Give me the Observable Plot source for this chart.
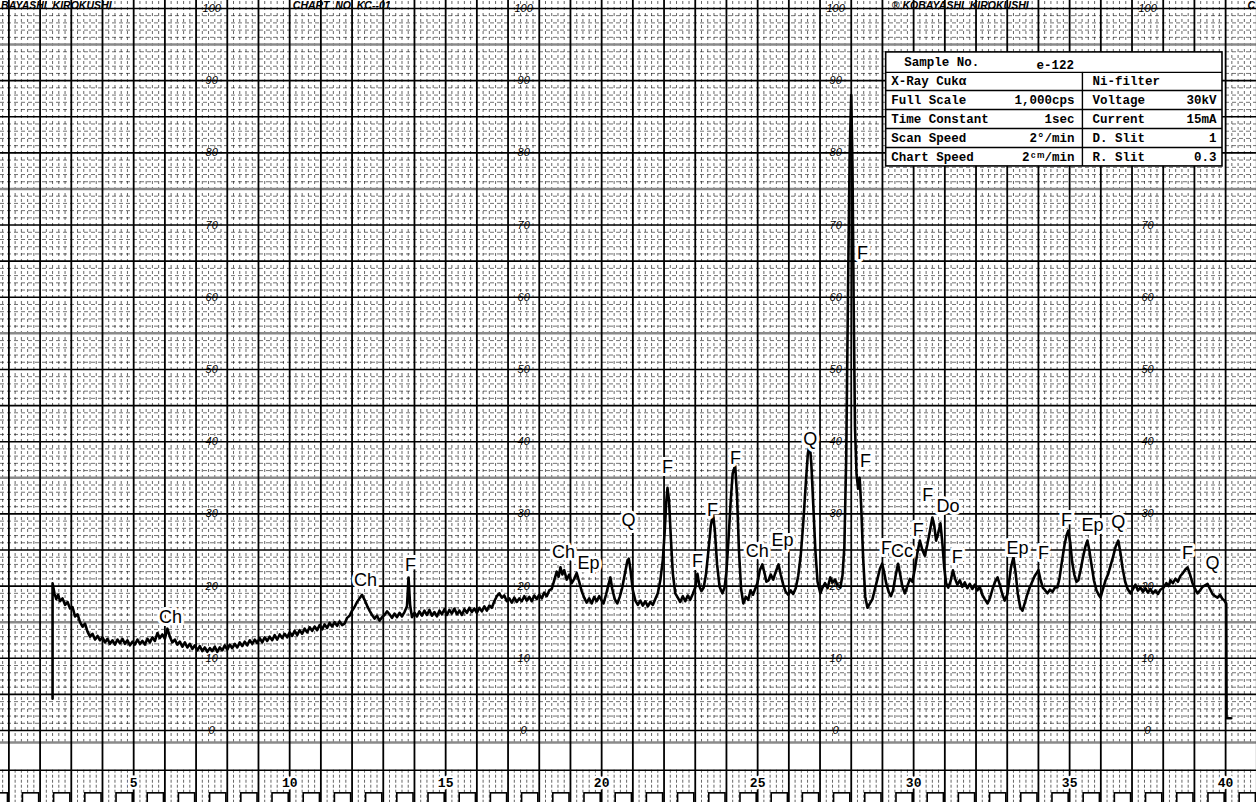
<!DOCTYPE html>
<html>
<head>
<meta charset="utf-8">
<script src="https://cdn.jsdelivr.net/npm/d3@7"></script>
<script src="https://cdn.jsdelivr.net/npm/@observablehq/plot@0.6"></script>
<style>
  html, body { margin: 0; padding: 0; background: #fff; overflow: hidden; }
  #chart svg { display: block; }
</style>
</head>
<body>
<div id="chart"></div>
<script>
// ---------------- data ----------------
// diffraction trace: [2θ (deg), recorder reading (% of full scale)]
const trace = [
[2.40,4.4],[2.40,20.4],[2.46,19.0],[2.52,18.2],[2.58,18.8],[2.64,17.9],[2.72,18.3],[2.80,17.4],[2.88,17.8],[2.96,16.9],
[3.04,17.1],[3.12,15.8],[3.20,16.1],[3.28,15.0],[3.36,14.4],[3.44,14.8],[3.52,13.7],[3.60,13.0],[3.68,13.4],[3.76,12.6],
[3.84,13.1],[3.92,12.5],[4.00,12.9],[4.08,12.2],[4.16,12.7],[4.24,12.0],[4.32,12.5],[4.40,11.9],[4.48,12.6],[4.56,12.1],
[4.64,12.7],[4.72,12.0],[4.80,12.5],[4.88,11.8],[4.96,12.3],[5.04,11.9],[5.12,12.6],[5.20,12.0],[5.28,12.4],[5.36,11.9],
[5.44,12.7],[5.52,12.2],[5.60,12.9],[5.68,12.4],[5.76,13.5],[5.84,12.8],[5.92,13.3],[6.00,12.7],[6.08,14.1],[6.16,13.0],
[6.24,12.2],[6.32,12.6],[6.40,11.9],[6.48,12.3],[6.56,11.6],[6.64,12.2],[6.72,11.5],[6.80,12.0],[6.88,11.3],[6.96,11.8],
[7.04,11.1],[7.12,11.7],[7.20,11.0],[7.28,11.5],[7.36,10.9],[7.44,11.4],[7.52,11.0],[7.60,11.6],[7.68,10.9],[7.76,11.5],
[7.84,11.1],[7.92,11.8],[8.00,11.2],[8.08,11.9],[8.16,11.4],[8.24,12.0],[8.32,11.5],[8.40,12.2],[8.48,11.7],[8.56,12.3],
[8.64,11.8],[8.72,12.5],[8.80,12.0],[8.88,12.6],[8.96,12.1],[9.04,12.8],[9.12,12.2],[9.20,12.9],[9.28,12.4],[9.36,13.0],
[9.44,12.5],[9.52,13.2],[9.60,12.6],[9.68,13.3],[9.76,12.8],[9.84,13.4],[9.92,12.9],[10.00,13.6],[10.08,13.1],[10.16,13.8],
[10.24,13.2],[10.32,13.9],[10.40,13.4],[10.48,14.1],[10.56,13.6],[10.64,14.3],[10.72,13.8],[10.80,14.4],[10.88,13.9],[10.96,14.6],
[11.04,14.0],[11.12,14.7],[11.20,14.2],[11.28,14.9],[11.36,14.4],[11.44,15.0],[11.52,14.5],[11.60,15.1],[11.68,14.6],[11.76,14.8],
[11.84,15.6],[11.92,15.9],[12.00,16.6],[12.08,17.1],[12.16,17.8],[12.24,18.3],[12.32,18.8],[12.40,18.1],[12.48,17.3],[12.56,16.6],
[12.64,16.0],[12.72,15.5],[12.80,15.9],[12.88,15.2],[12.96,15.7],[13.04,16.0],[13.12,16.5],[13.20,16.1],[13.28,15.6],[13.36,16.2],
[13.44,15.7],[13.52,16.3],[13.60,15.8],[13.68,16.4],[13.76,17.2],[13.81,21.2],[13.86,17.4],[13.92,15.7],[14.00,16.3],[14.08,15.8],
[14.16,16.5],[14.24,15.9],[14.32,16.6],[14.40,16.0],[14.48,16.7],[14.56,15.9],[14.64,16.4],[14.72,15.8],[14.80,16.6],[14.88,16.1],
[14.96,16.8],[15.04,16.0],[15.12,16.7],[15.20,16.2],[15.28,16.9],[15.36,16.1],[15.44,16.6],[15.52,16.0],[15.60,16.8],[15.68,16.3],
[15.76,17.0],[15.84,16.4],[15.92,16.9],[16.00,16.3],[16.08,17.0],[16.16,16.5],[16.24,17.2],[16.32,16.6],[16.40,17.3],[16.48,17.0],
[16.56,17.9],[16.64,18.6],[16.72,19.0],[16.80,18.4],[16.88,18.7],[16.96,17.9],[17.04,18.3],[17.12,17.7],[17.20,18.4],[17.28,17.8],
[17.36,18.3],[17.44,17.9],[17.52,18.6],[17.60,18.0],[17.68,18.5],[17.76,17.9],[17.84,18.7],[17.92,18.2],[18.00,18.8],[18.08,18.3],
[18.16,19.1],[18.24,18.6],[18.32,19.4],[18.40,19.6],[18.48,20.8],[18.56,22.0],[18.62,21.3],[18.68,22.6],[18.74,21.6],[18.80,22.2],
[18.88,20.9],[18.96,21.6],[19.04,20.4],[19.12,21.0],[19.20,21.8],[19.28,20.6],[19.36,19.3],[19.44,18.4],[19.52,17.7],[19.60,18.3],
[19.68,17.6],[19.76,18.5],[19.84,17.9],[19.92,18.6],[20.00,18.0],[20.06,17.6],[20.14,18.8],[20.22,20.2],[20.28,21.2],[20.34,19.6],
[20.42,18.2],[20.50,17.6],[20.58,18.5],[20.66,19.8],[20.74,21.6],[20.82,23.4],[20.87,23.8],[20.92,22.4],[21.00,19.4],[21.08,18.0],
[21.16,17.4],[21.24,18.0],[21.32,17.3],[21.40,17.9],[21.48,17.2],[21.56,17.8],[21.64,17.4],[21.72,18.2],[21.80,19.0],[21.88,20.8],
[21.96,23.6],[22.02,27.5],[22.07,31.6],[22.11,33.6],[22.16,31.8],[22.22,26.5],[22.28,21.8],[22.36,19.0],[22.44,18.4],[22.52,17.8],
[22.60,18.6],[22.68,17.9],[22.76,18.7],[22.84,18.1],[22.92,18.9],[23.00,19.8],[23.07,21.7],[23.14,19.9],[23.20,19.3],[23.27,19.8],
[23.34,21.5],[23.42,24.8],[23.50,28.4],[23.57,30.0],[23.63,27.6],[23.70,23.0],[23.78,19.9],[23.87,19.0],[23.94,19.8],[24.00,22.0],
[24.07,26.8],[24.14,32.0],[24.20,35.6],[24.28,36.7],[24.34,32.5],[24.40,25.0],[24.47,19.6],[24.54,17.6],[24.62,18.5],[24.70,18.1],
[24.77,19.4],[24.85,18.8],[24.92,19.6],[24.99,20.4],[25.07,22.2],[25.15,23.0],[25.22,21.8],[25.28,20.6],[25.35,20.8],[25.42,21.6],
[25.50,20.9],[25.58,22.0],[25.67,23.0],[25.74,21.6],[25.82,20.2],[25.90,19.2],[25.98,18.8],[26.06,19.4],[26.14,18.9],[26.22,19.7],
[26.30,21.4],[26.38,24.2],[26.46,28.6],[26.54,34.0],[26.61,38.4],[26.67,39.7],[26.72,37.0],[26.78,31.5],[26.85,25.0],[26.92,20.6],
[27.01,19.0],[27.08,19.8],[27.16,20.4],[27.24,19.7],[27.33,21.2],[27.40,20.5],[27.48,20.9],[27.56,20.1],[27.65,19.8],[27.72,21.5],
[27.78,25.5],[27.84,38.0],[27.90,62.0],[27.95,80.0],[28.00,88.0],[28.04,78.0],[28.08,58.0],[28.12,42.0],[28.17,35.5],[28.22,33.5],
[28.27,35.0],[28.32,31.0],[28.38,24.0],[28.45,18.5],[28.52,17.0],[28.60,17.6],[28.68,18.2],[28.76,19.6],[28.84,21.0],[28.92,22.4],
[28.99,23.1],[29.05,22.0],[29.12,20.4],[29.20,19.2],[29.27,18.6],[29.34,19.4],[29.42,21.4],[29.50,23.1],[29.57,21.6],[29.64,19.9],
[29.72,19.0],[29.80,20.0],[29.88,21.0],[29.96,20.6],[30.04,22.4],[30.12,24.6],[30.20,26.3],[30.28,25.0],[30.36,24.2],[30.44,25.8],
[30.52,27.6],[30.60,29.5],[30.66,28.4],[30.72,26.3],[30.78,27.2],[30.86,28.7],[30.92,26.0],[30.98,22.6],[31.04,20.4],[31.11,19.8],
[31.18,20.6],[31.26,22.2],[31.33,21.0],[31.40,20.2],[31.48,20.8],[31.56,19.9],[31.64,20.5],[31.72,19.7],[31.80,20.3],[31.88,19.6],
[31.96,20.2],[32.04,19.4],[32.12,19.9],[32.20,18.8],[32.28,18.2],[32.37,17.6],[32.45,18.4],[32.53,19.6],[32.61,20.6],[32.69,21.2],
[32.76,20.2],[32.84,18.9],[32.92,18.0],[33.00,18.8],[33.06,20.6],[33.12,22.6],[33.20,24.0],[33.27,21.8],[33.34,18.9],[33.42,17.0],
[33.49,16.6],[33.56,17.6],[33.64,18.8],[33.72,19.8],[33.80,20.6],[33.88,21.4],[33.94,21.8],[34.00,22.2],[34.06,21.0],[34.14,19.8],
[34.22,19.4],[34.29,19.0],[34.37,19.5],[34.45,19.2],[34.53,19.8],[34.61,19.8],[34.68,21.2],[34.76,23.6],[34.84,25.8],[34.90,27.0],
[34.96,27.7],[35.02,26.0],[35.08,23.4],[35.15,21.6],[35.22,20.6],[35.28,20.8],[35.35,22.2],[35.42,23.8],[35.50,25.4],[35.57,26.3],
[35.63,25.0],[35.70,23.0],[35.78,20.8],[35.86,19.4],[35.93,18.8],[35.99,18.4],[36.07,19.6],[36.15,20.8],[36.23,21.6],[36.31,22.8],
[36.39,24.0],[36.47,25.4],[36.56,26.3],[36.63,24.6],[36.70,22.4],[36.78,20.6],[36.86,19.6],[36.95,19.0],[37.03,19.6],[37.11,20.2],
[37.19,19.4],[37.27,19.8],[37.35,19.2],[37.43,19.7],[37.51,19.1],[37.59,19.6],[37.67,19.0],[37.75,19.4],[37.83,18.9],[37.91,19.5],
[38.01,19.8],[38.10,20.4],[38.18,20.0],[38.23,20.8],[38.31,20.4],[38.39,21.0],[38.47,20.6],[38.55,21.4],[38.63,21.8],[38.71,22.3],
[38.78,22.6],[38.86,21.6],[38.94,20.4],[39.02,19.6],[39.10,19.0],[39.18,19.4],[39.26,19.9],[39.34,20.1],[39.42,20.3],[39.50,19.6],
[39.58,18.9],[39.66,18.6],[39.74,18.4],[39.82,18.8],[39.90,18.2],[39.96,18.0],[40.02,17.6],[40.03,1.7],[40.18,1.7]
];

// mineral identifications written on the chart
const peakNames  = ["Ch","Ch","F","Ch","Ep","Q","F","F","F","F","Ch","Ep","Q","F","F","F","Cc","F","F","Do","F","Ep","F","F","Ep","Q","F","Q"];
const peakTheta  = [6.18,12.43,13.87,18.78,19.58,20.86,22.11,23.07,23.55,24.29,24.99,25.80,26.69,28.36,28.46,29.13,29.63,30.15,30.45,31.10,31.40,33.33,34.16,34.90,35.73,36.56,38.78,39.58];
const peakLevel  = [15.7,20.8,22.9,24.7,23.1,29.1,36.4,23.5,30.5,37.7,24.8,26.3,40.4,66.1,37.3,25.2,24.8,27.7,32.6,31.0,24.0,25.3,24.5,29.1,28.4,28.9,24.5,23.1];

// chart paper printing
const scaleLabels   = [0,10,20,30,40,50,60,70,80,90,100];
const scaleColumns  = [7.5,17.5,27.5,37.5];
const degreeLabels  = [5,10,15,20,25,30,35,40];
const headerTexts   = ["BAYASHI  KIROKUSHI","CHART  NO. KC--01","® KOBAYASHI  KIROKUSHI","C"];
const headerTheta   = [0.75,10.1,29.3,40.7];

// measurement conditions box
const sampleText = ["Sample No.", "e-122"];
const condLeftLabel  = ["X-Ray Cukα","Full Scale","Time Constant","Scan Speed","Chart Speed"];
const condLeftValue  = ["","1,000cps","1sec","2°/min","2ᶜᵐ/min"];
const condRightLabel = ["Ni-filter","Voltage","Current","D. Slit","R. Slit"];
const condRightValue = ["","30kV","15mA","1","0.3"];

// ---------------- derived tables ----------------
const traceData = trace.map(([t, v]) => ({t, v}));
const peaks = peakNames.map((n, i) => ({n, t: peakTheta[i], v: peakLevel[i]}));

// box geometry in chart units
const boxL = 29.12, boxR = 39.90, boxDiv = 35.41;
const rowEdges = [93.91, 91.14, 88.64, 86.01, 83.38, 80.75, 78.12];
const rows = condLeftLabel.map((l, i) => ({
  l, lv: condLeftValue[i], r: condRightLabel[i], rv: condRightValue[i],
  v: (rowEdges[i + 1] + rowEdges[i + 2]) / 2
}));

// printed scale numbers (those under the conditions box are hidden on the paper)
const scaleTexts = scaleColumns.flatMap(c => scaleLabels.map(v => ({t: c, v})))
  .filter(d => !(d.t > boxL && d.t < boxR && d.v > rowEdges[6] - 1.5 && d.v < rowEdges[0] + 1.5));

const degrees = d3.range(0, 42);
const minorX = d3.range(4, 206).filter(i => i % 5 !== 0).map(i => i / 5);
const minorY = d3.range(1, 100).filter(v => v % 5 !== 0);
const grayY = [15, 35, 55, 75, 95];
const blackY = d3.range(0, 101, 5).filter(v => !grayY.includes(v));

const mono = "Liberation Mono, DejaVu Sans Mono, monospace";

const chart = Plot.plot({
  width: 1256,
  height: 802,
  margin: 0,
  x: {domain: [0.731, 40.99], range: [0, 1256], axis: null},
  y: {domain: [-9.97, 101.1], range: [802, 0], axis: null},
  style: {background: "white", fontFamily: "Liberation Sans, Arial, sans-serif"},
  marks: [
    // dotted minor grid
    Plot.ruleX(minorX, {x: d => d, y1: -1.66, y2: 101.2, stroke: "#000", strokeWidth: 1, strokeDasharray: "3,3", strokeOpacity: 0.6}),
    Plot.ruleX(minorX, {x: d => d, y1: -5.5, y2: -10, stroke: "#000", strokeWidth: 1, strokeDasharray: "3,2", strokeOpacity: 0.6}),
    Plot.ruleY(minorY, {y: d => d, stroke: "#000", strokeWidth: 1, strokeDasharray: "4,3", strokeOpacity: 0.55}),
    // main grid
    Plot.ruleY(grayY.concat([-1.66]), {y: d => d, stroke: "#8a8a8a", strokeWidth: 2.5}),
    Plot.ruleY(blackY.concat([-5.5]), {y: d => d, stroke: "#000", strokeWidth: 1.6}),
    Plot.ruleX(degrees, {x: d => d, stroke: "#000", strokeWidth: 1.8}),
    // sprocket brackets at the paper edge
    Plot.rect(degrees, {x1: d => d + 0.45, x2: d => d + 0.97, y1: -11, y2: -8.7, fill: "white", stroke: "#000", strokeWidth: 1.6}),
    // printed scale numbers
    Plot.text(scaleTexts, {x: "t", y: "v", text: d => String(d.v), fontSize: 11, fontStyle: "italic", fill: "#000", lineAnchor: "middle"}),
    // header printing
    Plot.text(headerTexts, {x: (d, i) => headerTheta[i], y: 100.35, text: d => d, textAnchor: "start", fontSize: 10.5, fontStyle: "italic", fontWeight: "bold", lineAnchor: "middle"}),
    // the trace
    Plot.line(traceData, {x: "t", y: "v", stroke: "#000", strokeWidth: 2.6, strokeLinejoin: "round"}),
    // peak labels
    Plot.text(peaks, {x: "t", y: "v", text: "n", fontSize: 18, fill: "#000", stroke: "white", strokeWidth: 6, lineAnchor: "middle"}),
    // degree labels
    Plot.text(degreeLabels, {x: d => d, y: -7.2, text: d => String(d), fontSize: 13, fontWeight: "bold", fontFamily: mono, fill: "#000", stroke: "white", strokeWidth: 5, lineAnchor: "middle"}),
    // conditions box
    Plot.rect([0], {x1: boxL, x2: boxR, y1: rowEdges[6], y2: rowEdges[0], fill: "white", stroke: "#000", strokeWidth: 1.6}),
    Plot.ruleY(rowEdges.slice(1, 6), {y: d => d, x1: boxL, x2: boxR, stroke: "#000", strokeWidth: 1.4}),
    Plot.ruleX([boxDiv], {x: d => d, y1: rowEdges[6], y2: rowEdges[1], stroke: "#000", strokeWidth: 1.4}),
    Plot.text([sampleText[0]], {x: 29.70, y: 92.6, text: d => d, textAnchor: "start", fontFamily: mono, fontSize: 12.5, fontWeight: "bold", lineAnchor: "middle"}),
    Plot.text([sampleText[1]], {x: 33.94, y: 92.2, text: d => d, textAnchor: "start", fontFamily: mono, fontSize: 12.5, fontWeight: "bold", lineAnchor: "middle"}),
    Plot.text(rows, {x: 29.28, y: "v", text: "l", textAnchor: "start", fontFamily: mono, fontSize: 12.5, fontWeight: "bold", lineAnchor: "middle"}),
    Plot.text(rows, {x: 35.16, y: "v", text: "lv", textAnchor: "end", fontFamily: mono, fontSize: 12.5, fontWeight: "bold", lineAnchor: "middle"}),
    Plot.text(rows, {x: 35.73, y: "v", text: "r", textAnchor: "start", fontFamily: mono, fontSize: 12.5, fontWeight: "bold", lineAnchor: "middle"}),
    Plot.text(rows, {x: 39.71, y: "v", text: "rv", textAnchor: "end", fontFamily: mono, fontSize: 12.5, fontWeight: "bold", lineAnchor: "middle"})
  ]
});

document.getElementById("chart").appendChild(chart);
</script>
</body>
</html>
